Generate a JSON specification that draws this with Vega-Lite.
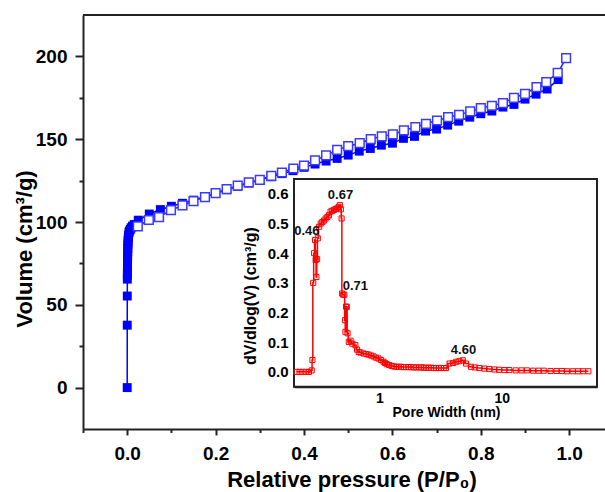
{
  "$schema": "https://vega.github.io/schema/vega-lite/v6.json",
  "width": 522,
  "height": 414,
  "autosize": {"type": "none"},
  "padding": {"left": 83, "top": 15, "right": 0, "bottom": 63},
  "background": "white",
  "config": {
    "view": {"stroke": null},
    "font": "Liberation Sans",
    "axis": {"grid": false, "labelColor": "#000", "titleColor": "#000", "domainColor": "#222", "tickColor": "#222", "labelFontWeight": "bold", "titleFontWeight": "bold", "labelFont": "Liberation Sans", "titleFont": "Liberation Sans", "zindex": 1, "labelOverlap": false, "labelFlush": false}
  },
  "datasets": {
    "ads": [
      {"p": 0.0, "V": 0}, {"p": 0.0001, "V": 37.7}, {"p": 0.0002, "V": 55.3}, {"p": 0.0003, "V": 65.5},
      {"p": 0.0004, "V": 68}, {"p": 0.0005, "V": 70}, {"p": 0.0006, "V": 72}, {"p": 0.0007, "V": 74},
      {"p": 0.0008, "V": 76}, {"p": 0.0009, "V": 78}, {"p": 0.001, "V": 80}, {"p": 0.0012, "V": 82},
      {"p": 0.0014, "V": 84}, {"p": 0.0016, "V": 86}, {"p": 0.0018, "V": 87.5}, {"p": 0.002, "V": 89},
      {"p": 0.0025, "V": 90.5}, {"p": 0.003, "V": 92}, {"p": 0.004, "V": 93.5}, {"p": 0.005, "V": 94.5},
      {"p": 0.007, "V": 95.5}, {"p": 0.009, "V": 96.5}, {"p": 0.012, "V": 97.5}, {"p": 0.016, "V": 98.5},
      {"p": 0.025, "V": 101.1}, {"p": 0.05, "V": 104.8}, {"p": 0.075, "V": 107.5}, {"p": 0.1, "V": 109.5},
      {"p": 0.125, "V": 111.3}, {"p": 0.15, "V": 113.2}, {"p": 0.175, "V": 115.2}, {"p": 0.2, "V": 117.3},
      {"p": 0.225, "V": 119.5}, {"p": 0.25, "V": 121.5}, {"p": 0.275, "V": 123.5}, {"p": 0.3, "V": 125.3},
      {"p": 0.325, "V": 127.3}, {"p": 0.35, "V": 129.2}, {"p": 0.375, "V": 131}, {"p": 0.4, "V": 133},
      {"p": 0.425, "V": 135}, {"p": 0.45, "V": 136.8}, {"p": 0.475, "V": 138.4}, {"p": 0.5, "V": 140.4},
      {"p": 0.525, "V": 142.8}, {"p": 0.55, "V": 144.4}, {"p": 0.575, "V": 146.4}, {"p": 0.6, "V": 147.6},
      {"p": 0.625, "V": 150.5}, {"p": 0.65, "V": 151.7}, {"p": 0.675, "V": 154.9}, {"p": 0.7, "V": 156.1},
      {"p": 0.725, "V": 158.5}, {"p": 0.75, "V": 160.9}, {"p": 0.775, "V": 163.3}, {"p": 0.8, "V": 165.4},
      {"p": 0.825, "V": 167}, {"p": 0.85, "V": 169.4}, {"p": 0.875, "V": 171}, {"p": 0.9, "V": 174.2},
      {"p": 0.925, "V": 177.2}, {"p": 0.95, "V": 180.3}, {"p": 0.975, "V": 186}
    ],
    "des": [
      {"p": 0.993, "V": 199}, {"p": 0.974, "V": 190}, {"p": 0.948, "V": 184.5}, {"p": 0.926, "V": 181.5},
      {"p": 0.9, "V": 177.4}, {"p": 0.875, "V": 175}, {"p": 0.85, "V": 171.8}, {"p": 0.825, "V": 170.2},
      {"p": 0.8, "V": 168.8}, {"p": 0.776, "V": 166.8}, {"p": 0.751, "V": 164.7}, {"p": 0.726, "V": 163.3},
      {"p": 0.701, "V": 161.3}, {"p": 0.676, "V": 159.3}, {"p": 0.652, "V": 157.3}, {"p": 0.626, "V": 155.3},
      {"p": 0.601, "V": 152.9}, {"p": 0.576, "V": 151.7}, {"p": 0.551, "V": 150.1}, {"p": 0.526, "V": 147.6},
      {"p": 0.5, "V": 145.8}, {"p": 0.475, "V": 143.5}, {"p": 0.45, "V": 140.2}, {"p": 0.425, "V": 137.2},
      {"p": 0.4, "V": 134.1}, {"p": 0.376, "V": 132.3}, {"p": 0.35, "V": 129.9}, {"p": 0.326, "V": 127.9},
      {"p": 0.3, "V": 125.5}, {"p": 0.275, "V": 123.9}, {"p": 0.25, "V": 121.9}, {"p": 0.225, "V": 119.8},
      {"p": 0.2, "V": 117.4}, {"p": 0.176, "V": 115}, {"p": 0.15, "V": 112.6}, {"p": 0.125, "V": 110},
      {"p": 0.099, "V": 107.2}, {"p": 0.072, "V": 103}, {"p": 0.049, "V": 101.2}, {"p": 0.024, "V": 97.4}
    ],
    "psd": [
      {"w": 0.21, "v": 0.0}, {"w": 0.222, "v": 0.0}, {"w": 0.235, "v": 0.0}, {"w": 0.25, "v": 0.0},
      {"w": 0.265, "v": 0.0}, {"w": 0.279, "v": 0.005}, {"w": 0.283, "v": 0.04}, {"w": 0.287, "v": 0.3},
      {"w": 0.292, "v": 0.4}, {"w": 0.297, "v": 0.444}, {"w": 0.301, "v": 0.377}, {"w": 0.305, "v": 0.32},
      {"w": 0.309, "v": 0.38}, {"w": 0.313, "v": 0.45}, {"w": 0.321, "v": 0.489}, {"w": 0.331, "v": 0.5},
      {"w": 0.341, "v": 0.505}, {"w": 0.352, "v": 0.51}, {"w": 0.363, "v": 0.517}, {"w": 0.375, "v": 0.522},
      {"w": 0.386, "v": 0.528}, {"w": 0.398, "v": 0.54}, {"w": 0.411, "v": 0.543}, {"w": 0.425, "v": 0.546},
      {"w": 0.438, "v": 0.549}, {"w": 0.452, "v": 0.551}, {"w": 0.463, "v": 0.556}, {"w": 0.474, "v": 0.562},
      {"w": 0.483, "v": 0.548}, {"w": 0.49, "v": 0.517}, {"w": 0.495, "v": 0.264}, {"w": 0.505, "v": 0.26},
      {"w": 0.516, "v": 0.26}, {"w": 0.522, "v": 0.174}, {"w": 0.527, "v": 0.135}, {"w": 0.533, "v": 0.22},
      {"w": 0.54, "v": 0.219}, {"w": 0.548, "v": 0.13}, {"w": 0.561, "v": 0.101}, {"w": 0.58, "v": 0.105},
      {"w": 0.6, "v": 0.095}, {"w": 0.635, "v": 0.09}, {"w": 0.655, "v": 0.075}, {"w": 0.676, "v": 0.067},
      {"w": 0.7, "v": 0.065}, {"w": 0.742, "v": 0.062}, {"w": 0.78, "v": 0.06}, {"w": 0.815, "v": 0.058},
      {"w": 0.855, "v": 0.055}, {"w": 0.894, "v": 0.052}, {"w": 0.935, "v": 0.048}, {"w": 0.981, "v": 0.045},
      {"w": 1.03, "v": 0.04}, {"w": 1.077, "v": 0.034}, {"w": 1.11, "v": 0.03}, {"w": 1.147, "v": 0.026},
      {"w": 1.2, "v": 0.023}, {"w": 1.26, "v": 0.02}, {"w": 1.32, "v": 0.018}, {"w": 1.38, "v": 0.017},
      {"w": 1.44, "v": 0.017}, {"w": 1.5, "v": 0.017}, {"w": 1.57, "v": 0.016}, {"w": 1.65, "v": 0.016},
      {"w": 1.72, "v": 0.016}, {"w": 1.8, "v": 0.016}, {"w": 1.9, "v": 0.015}, {"w": 2.0, "v": 0.015},
      {"w": 2.1, "v": 0.015}, {"w": 2.2, "v": 0.015}, {"w": 2.3, "v": 0.014}, {"w": 2.4, "v": 0.014},
      {"w": 2.52, "v": 0.014}, {"w": 2.65, "v": 0.014}, {"w": 2.78, "v": 0.013}, {"w": 2.9, "v": 0.013},
      {"w": 3.05, "v": 0.013}, {"w": 3.2, "v": 0.013}, {"w": 3.35, "v": 0.013}, {"w": 3.5, "v": 0.013},
      {"w": 3.74, "v": 0.028}, {"w": 4.0, "v": 0.03}, {"w": 4.24, "v": 0.034}, {"w": 4.5, "v": 0.036},
      {"w": 4.8, "v": 0.039}, {"w": 5.1, "v": 0.028}, {"w": 5.6, "v": 0.017}, {"w": 6.0, "v": 0.015},
      {"w": 6.55, "v": 0.013}, {"w": 7.2, "v": 0.011}, {"w": 7.9, "v": 0.0095}, {"w": 8.7, "v": 0.008},
      {"w": 9.5, "v": 0.007}, {"w": 10.5, "v": 0.006}, {"w": 11.5, "v": 0.006}, {"w": 13, "v": 0.005},
      {"w": 14.5, "v": 0.005}, {"w": 16, "v": 0.005}, {"w": 18, "v": 0.004}, {"w": 20, "v": 0.004},
      {"w": 22, "v": 0.004}, {"w": 25, "v": 0.003}, {"w": 28, "v": 0.003}, {"w": 31, "v": 0.003},
      {"w": 34, "v": 0.002}, {"w": 38, "v": 0.002}, {"w": 42, "v": 0.002}, {"w": 46, "v": 0.002},
      {"w": 51, "v": 0.002}
    ],
    "peaks": [
      {"w": 0.255, "v": 0.4755, "label": "0.46"},
      {"w": 0.48, "v": 0.596, "label": "0.67"},
      {"w": 0.635, "v": 0.29, "label": "0.71"},
      {"w": 4.86, "v": 0.073, "label": "4.60"}
    ]
  },
  "layer": [
    {
      "layer": [
        {
          "data": {"values": [{"V": 225}]},
          "mark": {"type": "rule", "color": "#222", "strokeWidth": 2},
          "encoding": {"y": {"field": "V", "type": "quantitative"}}
        },
        {
          "data": {"name": "ads"},
          "mark": {"type": "line", "color": "#0000ff", "strokeWidth": 1.5},
          "encoding": {
            "x": {
              "field": "p", "type": "quantitative",
              "scale": {"domain": [-0.1, 1.081], "nice": false, "zero": false},
              "axis": {
                "orient": "bottom",
                "values": [-0.1, 0, 0.1, 0.2, 0.3, 0.4, 0.5, 0.6, 0.7, 0.8, 0.9, 1.0],
                "labelExpr": "round(datum.value*10)%2==0 ? format(datum.value,'.1f') : ''",
                "tickSize": {"condition": {"test": "round(datum.value*10)%2==0", "value": 6}, "value": 3.5},
                "tickWidth": 2, "domainWidth": 2,
                "labelPadding": 9, "labelFontSize": 19,
                "title": "Relative pressure (P/P₀)", "titleFontSize": 22,
                "titleX": 268.5, "titleY": 57, "titleBaseline": "alphabetic", "titleAlign": "center"
              }
            },
            "y": {
              "field": "V", "type": "quantitative",
              "scale": {"domain": [-25, 225], "nice": false, "zero": false},
              "axis": {
                "orient": "left",
                "values": [0, 25, 50, 75, 100, 125, 150, 175, 200],
                "labelExpr": "datum.value%50==0 ? format(datum.value,'d') : ''",
                "tickSize": {"condition": {"test": "datum.value%50==0", "value": 8}, "value": 4},
                "tickWidth": 2, "domainWidth": 2,
                "labelPadding": 8, "labelFontSize": 19,
                "title": "Volume (cm³/g)", "titleFontSize": 22,
                "titleX": -52, "titleY": 233.5, "titleAngle": 270, "titleBaseline": "alphabetic", "titleAlign": "center"
              }
            }
          }
        },
        {
          "data": {"name": "ads"},
          "mark": {"type": "point", "shape": "square", "filled": true, "color": "#0000ff", "size": 80, "opacity": 1},
          "encoding": {"x": {"field": "p", "type": "quantitative"}, "y": {"field": "V", "type": "quantitative"}}
        },
        {
          "data": {"name": "des"},
          "mark": {"type": "line", "color": "#2222ff", "strokeWidth": 1.5},
          "encoding": {"x": {"field": "p", "type": "quantitative"}, "y": {"field": "V", "type": "quantitative"}}
        },
        {
          "data": {"name": "des"},
          "mark": {"type": "point", "shape": "square", "filled": true, "fill": "white", "stroke": "#3a3aff", "strokeWidth": 1.5, "size": 76, "opacity": 1},
          "encoding": {"x": {"field": "p", "type": "quantitative"}, "y": {"field": "V", "type": "quantitative"}}
        }
      ]
    },
    {
      "layer": [
        {
          "data": {"values": [{"x1": 0.2, "x2": 60, "y1": -0.05, "y2": 0.65}]},
          "mark": {"type": "rect", "fill": "white", "stroke": "#222", "strokeWidth": 2},
          "encoding": {
            "x": {"field": "x1", "type": "quantitative"},
            "x2": {"field": "x2"},
            "y": {"field": "y1", "type": "quantitative"},
            "y2": {"field": "y2"}
          }
        },
        {
          "data": {"name": "psd"},
          "mark": {"type": "line", "color": "#ff0000", "strokeWidth": 1.5, "interpolate": "step"},
          "encoding": {
            "x": {
              "field": "w", "type": "quantitative",
              "scale": {"type": "log", "domain": [0.2, 60], "range": [211, 514], "nice": false},
              "axis": {
                "orient": "bottom", "offset": -42.3,
                "values": [0.3, 0.4, 0.5, 0.6, 0.7, 0.8, 0.9, 1, 2, 3, 4, 5, 6, 7, 8, 9, 10, 20, 30, 40, 50],
                "labelExpr": "(datum.value==1 || datum.value==10) ? format(datum.value,'d') : ''",
                "tickSize": {"condition": {"test": "datum.value==1 || datum.value==10", "value": -4}, "value": -2.5},
                "tickWidth": 1.5, "domainWidth": 2,
                "labelPadding": 9, "labelFontSize": 14,
                "title": "Pore Width (nm)", "titleFontSize": 14,
                "titleX": 363, "titleY": 30, "titleBaseline": "alphabetic", "titleAlign": "center"
              }
            },
            "y": {
              "field": "v", "type": "quantitative",
              "scale": {"domain": [-0.05, 0.65], "range": [371.7, 164], "nice": false, "zero": false},
              "axis": {
                "orient": "left", "offset": -211,
                "values": [0, 0.1, 0.2, 0.3, 0.4, 0.5, 0.6],
                "format": ".1f",
                "tickSize": -3, "tickWidth": 1.5, "domainWidth": 2,
                "labelPadding": 9, "labelFontSize": 15,
                "title": "dV/dlog(V) (cm³/g)", "titleFontSize": 16,
                "titleX": -39, "titleY": 280.6, "titleAngle": 270, "titleBaseline": "alphabetic", "titleAlign": "center"
              }
            }
          }
        },
        {
          "data": {"name": "psd"},
          "mark": {"type": "point", "shape": "square", "filled": false, "color": "#ff0000", "strokeWidth": 1, "size": 26, "opacity": 1},
          "encoding": {"x": {"field": "w", "type": "quantitative"}, "y": {"field": "v", "type": "quantitative"}}
        },
        {
          "data": {"name": "peaks"},
          "mark": {"type": "text", "fontSize": 13, "fontWeight": "bold", "color": "#111", "align": "center", "baseline": "middle", "font": "Liberation Sans"},
          "encoding": {
            "x": {"field": "w", "type": "quantitative"},
            "y": {"field": "v", "type": "quantitative"},
            "text": {"field": "label"}
          }
        }
      ]
    }
  ],
  "resolve": {
    "scale": {"x": "independent", "y": "independent"},
    "axis": {"x": "independent", "y": "independent"}
  }
}
